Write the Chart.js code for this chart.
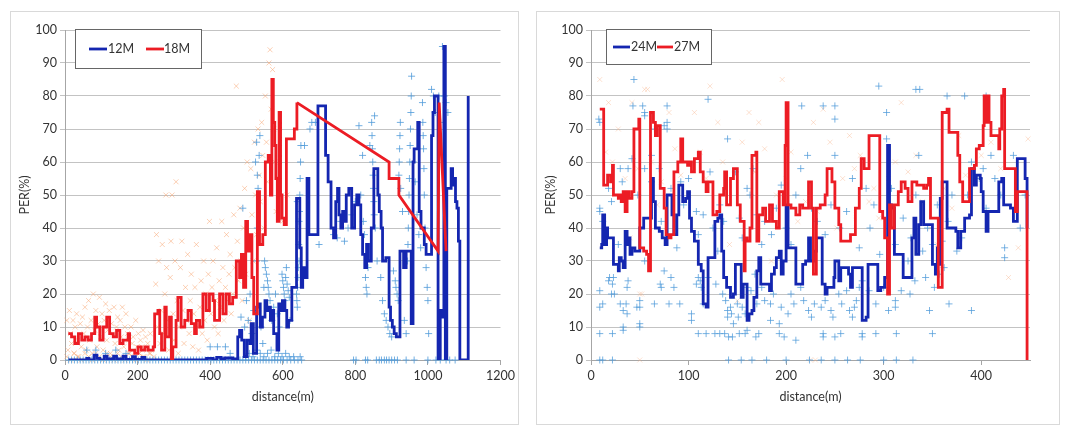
<!DOCTYPE html>
<html>
<head>
<meta charset="utf-8">
<script src="https://cdn.jsdelivr.net/npm/chart.js@4/dist/chart.umd.min.js"></script>
<style>
  html,body{margin:0;padding:0;background:#fff;}
  .frame{position:absolute;border:1px solid #d9d9d9;background:#fff;}
  .frame canvas{position:absolute;left:0;top:0;}
</style>
</head>
<body>
<div class="frame" id="f1" style="left:10px;top:11px;width:507px;height:412px;"><canvas id="c1" width="507" height="412"></canvas></div>
<div class="frame" id="f2" style="left:536px;top:11px;width:522px;height:412px;"><canvas id="c2" width="522" height="412"></canvas></div>
<script>
// ---------- DATA ----------
const yTicks = [0,10,20,30,40,50,60,70,80,90,100];
const leftXTicks = [0,200,400,600,800,1000,1200];
const rightXTicks = [0,100,200,300,400];
const leftSeriesNames = ['12M','18M'];
const rightSeriesNames = ['24M','27M'];

// 12M stepped line (distance m, PER %)
const line12 = [[10,0],[55,0],[60,0.5],[66,0],[80,1.5],[88,0.5],[96,0],[108,1.2],[116,0.3],[134,1.2],[142,0.3],[160,1.2],[168,0.2],[186,1],[194,0.2],[212,0.8],[220,0],[385,0],[390,0.5],[408,0],[418,0.8],[430,0.3],[440,0.6],[462,0.3],
 [476,7],[481,9],[487,6],[494,1],[502,6],[510,5],[513,11],[519,2],[528,16],[533,17],[538,10],[544,13],[551,18],[556,15],[561,16],[566,12],[570,15],[575,8],[584,3],[589,17],[594,15],[599,18],[606,15],[611,10],[616,12],[625,22],[633,22],[638,49],[647,34],[651,22],[655,28],[660,25],[667,55],[672,38],[697,77],[718,62],[725,54],[733,40],[740,37],[746,48],[751,52],[755,44],[760,40],[765,45],[770,42],
 [775,50],[782,52],[790,40],[798,47],[804,50],[810,47],[815,38],[820,32],[826,28],[831,35],[836,30],[844,40],[851,58],[862,50],[866,45],[871,40],[875,30],[884,31],[893,16],[897,12],[902,10],[907,8],[913,7],[923,33],[933,28],[940,33],[954,11],[959,60],[962,64],[972,72],[976,45],[981,40],[990,35],[995,32],[1010,68],[1014,75],[1018,80],[1028,0],[1034,15],[1040,13],[1044,95],[1048,0],[1052,52],[1064,58],[1068,53],[1072,55],[1076,48],[1080,46],[1084,36],[1088,0],[1110,0],[1111,80]];

// 18M stepped line part
const line18 = [[9,8],[18,7],[27,5],[37,8],[46,6],[55,7],[64,6],[73,8],[82,13],[87,10],[96,6],[105,10],[115,13],[123,8],[133,7],[142,9],[151,5],[160,6],[174,8],[178,3],[192,2],[201,4],[210,3],[220,4],[229,3],[243,4],[247,14],[256,15],[261,8],[266,3],[275,16],[279,7],[288,13],[293,0],[297,4],[306,12],[311,19],[320,10],[330,12],[339,15],[348,11],[357,8],[362,12],[371,10],[380,20],[389,15],[398,20],[408,18],[412,12],[426,20],[435,14],[444,20],[453,17],[462,19],[472,30],[481,25],[486,32],[492,22],[498,42],[503,33],[510,38],[515,25],[520,14],[527,14],[530,51],[536,35],[545,38],[552,60],[560,62],[566,50],[570,85],[574,72],[578,65],[581,55],[585,42],[590,75],[594,50],[598,43],[604,41],[610,67],[626,67],[632,70],[639,78]];
// 18M straight (gap) part
const line18gap = [[639,78],[893,60],[893,55],[920,55],[920,50],[1028,33],[1031,78],[1050,33]];

// 12M raw samples (+)
const raw12 = [[10,0],[18,0],[26,0],[34,0],[42,0],[50,0],[58,0],[66,0],[74,0],[82,0],[90,0],[98,0],[106,0],[114,0],[122,0],[130,0],[138,0],[146,0],[154,0],[162,0],[170,0],[178,0],[186,0],[194,0],[202,0],[210,0],[218,0],[226,0],[234,0],[242,0],[250,0],[258,0],[266,0],[274,0],[282,0],[290,0],[298,0],[306,0],[314,0],[322,0],[330,0],[338,0],[346,0],[354,0],[362,0],[370,0],[378,0],[386,0],[394,0],[402,0],[410,0],[418,0],[426,0],[434,0],[442,0],[450,0],[458,0],[466,0],[474,0],[482,0],[490,0],[498,0],[506,0],[514,0],[522,0],[530,0],[538,0],[546,0],[554,0],[562,0],[570,0],[578,0],[586,0],[594,0],[602,0],[612,0],[622,0],[632,0],[642,0],[652,0],[795,0],[802,0],[828,0],[834,0],[858,0],[866,0],[872,0],[880,0],[886,0],[893,0],[900,0],[908,0],[916,0],[940,0],[962,0],[1000,0],[1022,0],[1034,0],[1050,0],[1060,0],[1075,0],
 [60,3],[85,3],[112,2],[140,3],[168,2],[400,4],[420,4],[442,4],[455,2],[498,1],[508,2],[518,1],[528,3],[538,2],[548,1],[558,2],[568,3],[578,1],[588,2],[598,1],[608,2],[618,1],[630,1],[648,1],
 [485,13],[490,46],[495,10],[500,18],[505,12],[510,20],[515,8],[520,15],[525,60],[528,66],[530,56],[532,52],[535,62],[537,68],[530,40],[528,30],[540,10],[545,5],[548,22],[550,30],[552,28],[555,26],[558,24],[560,22],[562,20],[565,18],[570,12],[575,16],[580,20],[585,14],[590,10],[598,26],[600,24],[602,22],[604,20],[606,18],[608,25],[610,28],[612,23],[615,21],[618,19],[620,12],[638,20],[639,18],[640,16],[641,22],[642,25],[643,28],[644,35],[645,42],[646,45],[647,50],[648,55],[649,60],[650,65],[640,48],[645,30],[660,65],[675,70],[680,72],[690,72],[700,35],[740,38],[750,37],[760,42],[770,36],[780,40],[790,44],[800,48],[810,71],[815,50],[820,62],[822,42],[825,38],[828,25],[830,22],[832,20],[835,28],[840,65],[845,72],[846,68],[847,64],[848,60],[849,56],[850,52],[851,48],[852,44],[853,74],[855,40],[860,30],[870,25],[875,18],[880,14],[885,12],[890,10],[895,8],[900,7],[905,27],[910,24],[912,22],[915,20],[918,18],[920,56],[921,60],[922,64],[923,68],[924,72],[925,52],[930,45],[935,12],[940,8],[944,30],[945,35],[946,40],[947,45],[948,50],[949,55],[950,60],[951,65],[952,70],[953,75],[954,80],[955,86],[960,60],[965,54],[970,44],[975,38],[980,34],[985,78],[986,72],[987,68],[988,64],[989,58],[990,50],[992,40],[995,28],[998,22],[1000,18],[1002,8],[1010,82],[1015,80],[1020,75],[1030,80],[1035,72],[1040,95],[1045,80],[1050,78],[1055,75]];

// 18M raw samples (x)
const raw18 = [[5,1],[15,0],[25,2],[35,1],[45,0],[55,2],[65,1],[75,0],[85,2],[95,1],[105,0],[115,2],[125,1],[135,0],[145,2],[155,1],[165,0],[175,2],[185,1],[195,0],[205,2],[215,1],[225,0],[235,2],[245,1],
 [5,12],[8,3],[12,15],[15,8],[18,5],[22,12],[25,2],[28,10],[32,14],[35,6],[38,1],[42,11],[45,4],[48,13],[52,8],[55,16],[58,3],[62,10],[65,18],[68,6],[72,12],[75,2],[78,20],[82,9],[85,15],[88,4],[92,11],[95,19],[98,7],[102,14],[105,3],[108,12],[112,17],[115,6],[118,9],[122,15],[125,2],[128,11],[132,8],[135,16],[138,5],[142,10],[145,13],[148,3],[152,12],[155,7],[158,16],[162,4],[165,10],[168,14],[172,8],[175,6],[178,2],[182,10],[185,5],[188,7],[192,1],[195,12],[198,4],[202,8],[205,2],[208,6],[212,4],[215,9],[218,1],[222,7],[225,3],[228,5],[232,2],[235,8],[238,3],
 [250,23],[252,38],[255,10],[258,30],[262,5],[265,15],[268,35],[272,8],[275,20],[278,50],[280,28],[283,12],[286,3],[290,25],[292,36],[295,50],[298,14],[300,6],[303,30],[306,54],[309,18],[312,2],[315,10],[318,28],[322,36],[325,15],[328,5],[332,22],[335,12],[338,32],[342,8],[345,18],[348,26],[352,4],[355,14],[358,22],[362,35],[365,10],[368,3],[372,16],[375,24],[378,8],[382,30],[385,12],[388,20],[392,6],[395,26],[398,42],[402,14],[405,22],[408,30],[412,10],[415,18],[418,34],[422,8],[425,24],[428,16],[432,42],[435,28],[438,12],[442,22],[445,38],[448,18],[452,26],[455,32],[458,14],[462,20],[465,44],[468,28],
 [472,83],[475,36],[478,24],[482,46],[485,30],[488,18],[492,40],[495,52],[498,26],[502,60],[505,35],[508,12],[512,58],[515,44],[518,30],[522,66],[525,50],[528,38],[532,70],[535,56],[538,48],[542,72],[545,62],[548,40],[552,80],[555,66],[558,54],[562,90],[565,94],[568,76],[572,88],[575,70],[578,60],[582,45],[590,55],[600,42],[612,50]];

// 24M stepped line
const line24 = [[9,34],[11,35],[12,44],[14,35],[16,40],[17,37],[21,37],[23,29],[26,29],[28,27],[29,31],[31,30],[33,28],[35,39],[37,35],[38,37],[40,32],[42,34],[45,33],[50,40],[54,43],[59,43],[62,55],[64,48],[66,40],[70,39],[73,37],[76,35],[78,50],[83,44],[85,38],[88,44],[90,53],[94,48],[97,49],[99,51],[101,43],[103,39],[106,36],[110,29],[113,27],[115,17],[118,16],[120,31],[123,31],[127,42],[130,43],[132,44],[134,33],[136,25],[139,22],[143,19],[146,20],[148,29],[151,29],[154,19],[156,23],[160,12],[162,14],[165,15],[167,19],[170,27],[172,31],[174,23],[179,23],[183,21],[185,26],[188,28],[190,31],[193,33],[195,26],[197,30],[200,47],[202,34],[209,34],[210,23],[214,23],[217,29],[220,30],[223,37],[225,30],[228,33],[231,37],[237,23],[240,20],[242,22],[247,22],[249,25],[250,30],[254,24],[256,28],[259,28],[264,26],[266,22],[268,28],[275,28],[278,12],[282,13],[284,29],[292,29],[294,21],[297,22],[301,25],[304,65],[306,47],[308,46],[311,32],[318,32],[320,25],[325,25],[329,37],[331,43],[333,32],[336,41],[338,48],[341,41],[350,29],[353,26],[355,34],[356,29],[358,49],[360,54],[365,40],[374,39],[376,34],[379,39],[383,43],[388,44],[390,58],[393,53],[395,56],[399,55],[400,51],[402,45],[405,39],[407,45],[416,45],[418,54],[421,55],[423,47],[430,46],[433,42],[437,61],[443,61],[445,55],[447,40]];

// 27M stepped line
const line27 = [[9,76],[12,76],[13,53],[17,56],[20,54],[22,59],[23,50],[28,49],[30,50],[31,48],[33,51],[35,45],[37,51],[39,49],[42,51],[44,70],[47,70],[49,73],[50,34],[54,33],[57,32],[59,27],[61,75],[64,72],[66,68],[68,71],[71,52],[75,46],[77,38],[80,37],[82,38],[85,57],[89,60],[92,67],[94,60],[99,59],[101,60],[103,57],[106,61],[110,63],[112,57],[115,54],[118,51],[120,54],[125,44],[129,45],[132,50],[136,52],[137,57],[139,47],[143,55],[146,58],[150,47],[153,42],[157,27],[158,37],[160,36],[163,40],[165,62],[169,63],[170,36],[172,44],[176,46],[179,42],[183,47],[186,42],[190,40],[193,51],[197,47],[199,65],[200,78],[202,47],[205,46],[210,44],[214,47],[217,46],[223,54],[226,46],[228,26],[231,46],[235,47],[240,50],[242,58],[247,54],[250,46],[254,41],[256,36],[263,36],[266,38],[271,46],[275,52],[277,61],[280,58],[285,68],[294,68],[296,45],[299,43],[301,37],[304,20],[306,47],[308,40],[311,47],[315,51],[318,54],[322,52],[325,48],[329,54],[334,53],[337,53],[341,52],[344,53],[346,55],[348,43],[355,43],[356,22],[360,75],[365,76],[367,69],[374,69],[376,62],[378,54],[381,48],[386,48],[388,58],[393,59],[395,64],[398,65],[402,71],[403,80],[404,72],[406,80],[408,72],[410,68],[416,68],[418,64],[419,70],[421,80],[423,82],[424,58],[433,58],[435,45],[437,51],[445,51],[447,0]];

// 24M raw samples (+)
const raw24 = [[9,0],[12,0],[22,0],[141,0],[154,0],[165,0],[180,0],[200,0],[224,0],[236,0],[250,0],[263,0],[276,0],[300,0],[313,0],[330,0],
 [9,8],[22,8],[33,9],[33,10],[50,10],[50,11],[110,8],[118,8],[127,8],[132,8],[137,8],[141,7],[145,7],[152,8],[158,8],[160,9],[169,7],[172,8],[184,12],[193,8],[198,7],[210,6],[238,7],[238,8],[250,7],[256,8],[278,7],[278,8],[292,8],[313,8],[350,8],
 [9,21],[9,16],[12,17],[21,20],[18,24],[19,25],[22,23],[23,25],[24,20],[30,17],[33,15],[36,17],[37,14],[38,24],[37,22],[47,16],[50,18],[50,16],[55,30],[65,17],[71,23],[72,22],[75,27],[80,17],[82,25],[85,22],[91,17],[103,14],[103,12],[108,23],[110,25],[112,24],[113,22],[115,17],[120,25],[128,23],[135,20],[138,18],[140,15],[140,13],[143,16],[144,14],[146,11],[150,17],[151,13],[155,16],[158,14],[160,22],[164,21],[168,26],[170,17],[175,22],[178,18],[184,17],[187,20],[193,11],[195,16],[202,14],[205,20],[208,17],[215,22],[218,18],[223,15],[226,13],[229,17],[236,16],[240,18],[246,15],[248,13],[254,20],[257,17],[262,21],[265,15],[268,13],[270,16],[272,18],[275,22],[278,24],[285,21],[292,17],[300,22],[305,15],[312,18],[312,16],[318,21],[327,20],[332,24],[343,25],[347,15],[352,22],[357,26],[367,17],[390,15],
 [9,46],[9,45],[12,42],[18,52],[21,48],[28,35],[30,58],[32,54],[38,58],[42,61],[48,50],[55,75],[55,58],[62,62],[62,54],[65,70],[70,58],[72,42],[75,71],[78,77],[78,70],[82,52],[88,34],[92,54],[95,47],[100,55],[108,45],[110,38],[115,44],[122,57],[125,40],[130,33],[132,47],[136,42],[140,67],[148,57],[152,43],[155,37],[160,52],[163,50],[166,58],[170,44],[175,35],[178,42],[185,38],[190,46],[195,53],[200,40],[205,35],[210,50],[215,58],[222,62],[226,46],[232,42],[240,38],[246,47],[250,62],[255,40],[262,45],[268,55],[275,34],[282,52],[286,40],[290,47],[296,32],[303,67],[308,52],[312,35],[320,43],[325,30],[328,37],[333,50],[336,62],[340,33],[345,40],[350,35],[355,47],[360,36],[362,28],[366,42],[370,50],[375,33],[380,37],[386,50],[390,60],[398,55],[402,58],[405,46],[410,62],[414,55],[420,50],[424,34],[424,31],[433,62],[440,40],[445,50],
 [8,73],[9,72],[44,85],[43,77],[53,77],[55,74],[78,72],[120,79],[216,77],[238,77],[250,77],[250,73],[295,83],[303,75],[333,82],[337,82],[365,80],[383,80],[405,80]];

// 27M raw samples (x)
const raw27 = [[9,85],[15,63],[18,78],[22,60],[28,70],[35,55],[42,78],[48,58],[52,20],[55,82],[58,82],[62,60],[68,47],[72,54],[80,75],[86,64],[92,56],[100,50],[106,75],[112,63],[118,55],[122,83],[130,72],[135,60],[142,35],[150,18],[155,66],[162,75],[168,57],[172,72],[178,64],[185,30],[190,50],[196,85],[200,55],[205,63],[212,42],[220,48],[228,72],[232,45],[238,76],[245,66],[252,40],[258,55],[265,68],[270,58],[276,62],[285,48],[290,52],[295,43],[305,55],[312,60],[318,78],[325,57],[333,62],[340,48],[348,40],[355,35],[362,52],[370,46],[377,68],[384,56],[392,57],[400,62],[410,66],[420,58],[428,25],[438,34],[448,67],[50,0],[225,0],[230,0],[50,20],[40,37]];

// ---------- STYLE ----------
const FONT = 'Lato, "Open Sans", "Liberation Sans", sans-serif';
const FSIZE = 12.5;
const TXT = '#333333';
const BLUE = '#1426b0';
const RED = '#ec1c24';
const pts = a => a.map(p => ({x:p[0], y:p[1]}));

const boxLegend = {
  id: 'boxLegend',
  afterDraw(chart, args, o) {
    const ctx = chart.ctx;
    ctx.save();
    ctx.fillStyle = '#fff';
    ctx.fillRect(o.x, o.y, o.w, o.h);
    ctx.strokeStyle = '#666';
    ctx.lineWidth = 1;
    ctx.strokeRect(o.x + 0.5, o.y + 0.5, o.w, o.h);
    ctx.font = FSIZE + 'px ' + FONT;
    ctx.textBaseline = 'middle';
    ctx.textAlign = 'left';
    const cy = o.y + o.h / 2 + 0.5;
    o.items.forEach(it => {
      const ds = chart.data.datasets[it.ds];
      ctx.strokeStyle = ds.borderColor;
      ctx.lineWidth = 2.8;
      ctx.beginPath();
      ctx.moveTo(o.x + it.lx, cy);
      ctx.lineTo(o.x + it.lx + it.lw, cy);
      ctx.stroke();
      ctx.fillStyle = TXT;
      ctx.fillText(ds.label, o.x + it.tx, cy);
    });
    ctx.restore();
  }
};

function scales(xmax, xstep) {
  return {
    x: {
      type: 'linear', min: 0, max: xmax,
      ticks: {stepSize: xstep, includeBounds: false, color: TXT, font: {family: FONT, size: FSIZE}, padding: 3, maxRotation: 0, autoSkip: false,
        format: {useGrouping: false}},
      grid: {drawOnChartArea: false, drawTicks: true, tickLength: 5, color: '#a6a6a6'},
      border: {color: '#a6a6a6', width: 1},
      title: {display: true, text: 'distance(m)', color: TXT, font: {family: FONT, size: FSIZE}, padding: {top: 4, bottom: 0}},
      afterFit(s) { s.height = 44; }
    },
    y: {
      min: 0, max: 100,
      ticks: {stepSize: 10, color: TXT, font: {family: FONT, size: FSIZE}, padding: 3},
      grid: {color: '#c3c3c3', lineWidth: 1, tickLength: 5, drawTicks: true},
      border: {color: '#a6a6a6', width: 1},
      title: {display: true, text: 'PER(%)', color: TXT, font: {family: FONT, size: FSIZE}, padding: {top: 0, bottom: 0}},
      afterFit(s) { s.width = 48; }
    }
  };
}

function lineDs(label, data, color, order) {
  return {type: 'line', label, data: pts(data), borderColor: color, backgroundColor: color, borderWidth: 2.8,
    pointRadius: 0, stepped: true, tension: 0, fill: false, order};
}
function linDs(label, data, color, order) {
  return {type: 'line', label, data: pts(data), borderColor: color, backgroundColor: color, borderWidth: 2.8,
    pointRadius: 0, stepped: false, tension: 0, fill: false, order};
}
function rawDs(label, data, color, style, order) {
  return {type: 'scatter', label, data: pts(data), showLine: false, pointStyle: style, pointRadius: 3.5,
    borderColor: color, backgroundColor: color, pointBorderWidth: 1, borderWidth: 1, clip: false, order};
}

new Chart(document.getElementById('c1'), {
  data: {datasets: [
    lineDs(leftSeriesNames[0], line12, BLUE, 2),
    lineDs(leftSeriesNames[1], line18, RED, 1),
    linDs(leftSeriesNames[1] + ' ', line18gap, RED, 1),
    rawDs('12M raw', raw12, 'rgba(80,155,218,0.8)', 'cross', 4),
    rawDs('18M raw', raw18, 'rgba(247,170,120,0.55)', 'crossRot', 5)
  ]},
  options: {
    responsive: false, animation: false, events: [],
    layout: {padding: {left: 6, right: 13, top: 18, bottom: 20}},
    plugins: {legend: {display: false}, tooltip: {enabled: false},
      boxLegend: {x: 64, y: 17, w: 126, h: 39, items: [{ds: 0, lx: 14, lw: 18, tx: 33}, {ds: 1, lx: 71, lw: 18, tx: 89}]}},
    scales: scales(1200, 200)
  },
  plugins: [boxLegend]
});

new Chart(document.getElementById('c2'), {
  data: {datasets: [
    lineDs(rightSeriesNames[0], line24, BLUE, 2),
    lineDs(rightSeriesNames[1], line27, RED, 1),
    rawDs('24M raw', raw24, 'rgba(80,155,218,0.75)', 'cross', 4),
    rawDs('27M raw', raw27, 'rgba(247,180,140,0.4)', 'crossRot', 5)
  ]},
  options: {
    responsive: false, animation: false, events: [],
    layout: {padding: {left: 6, right: 29, top: 18, bottom: 20}},
    plugins: {legend: {display: false}, tooltip: {enabled: false},
      boxLegend: {x: 69, y: 17, w: 105, h: 35, items: [{ds: 0, lx: 7, lw: 17, tx: 25}, {ds: 1, lx: 51, lw: 16, tx: 68}]}},
    scales: scales(450, 100)
  },
  plugins: [boxLegend]
});
</script>
</body>
</html>
